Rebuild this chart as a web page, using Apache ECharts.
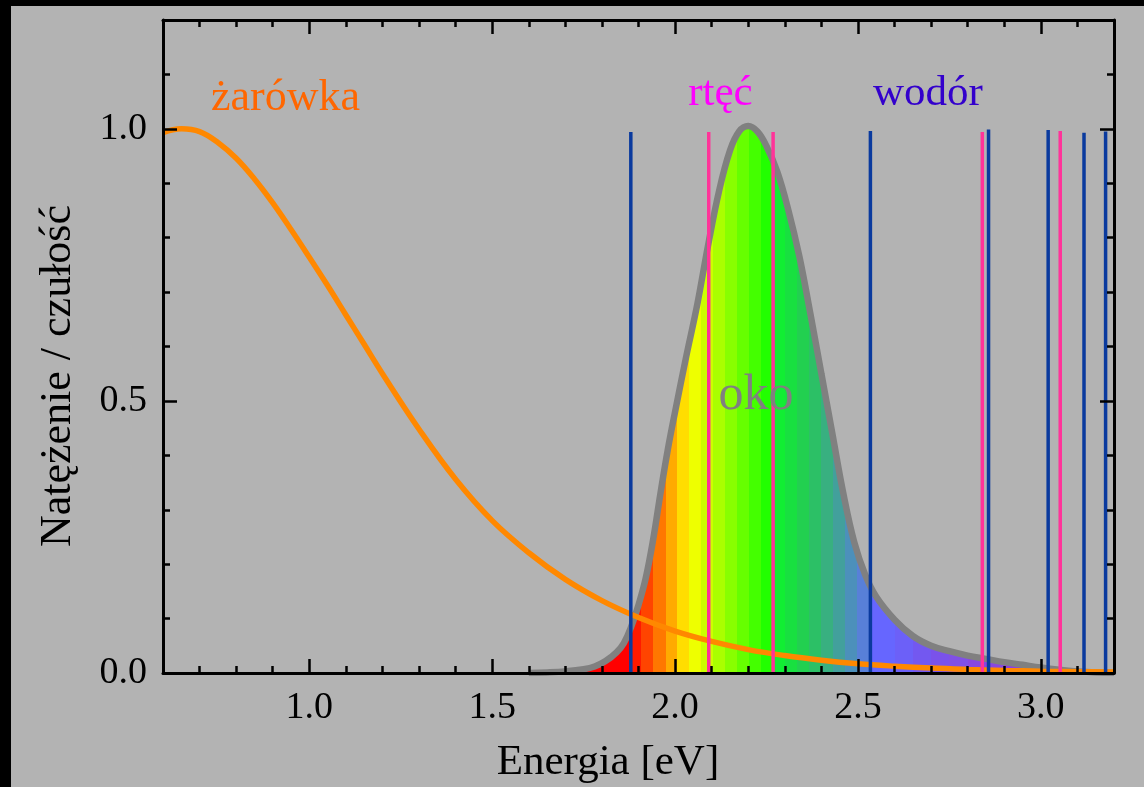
<!DOCTYPE html>
<html>
<head>
<meta charset="utf-8">
<title>oko / żarówka / rtęć / wodór</title>
<script src="https://cdn.jsdelivr.net/npm/echarts@6/dist/echarts.min.js"></script>
<style>
  html, body { margin: 0; padding: 0; background: #000; }
  #chart { width: 1133px; height: 781px; border-top: 6px solid #000; border-left: 11px solid #000; background: #b3b3b3; }
</style>
</head>
<body>
<div id="chart"></div>
<script>
// ticks
var xMajor = [1.0, 1.5, 2.0, 2.5, 3.0];
var xMinor = [0.7, 0.8, 0.9, 1.1, 1.2, 1.3, 1.4, 1.6, 1.7, 1.8, 1.9, 2.1, 2.2, 2.3, 2.4, 2.6, 2.7, 2.8, 2.9, 3.1];
var yMajor = [0.0, 0.5, 1.0];
var yMinor = [0.1, 0.2, 0.3, 0.4, 0.6, 0.7, 0.8, 0.9, 1.1];

// żarówka (widmo żarówki)
var bulbE = [0.60, 0.65, 0.70, 0.75, 0.80, 0.85, 0.90, 0.95, 1.00, 1.05, 1.10, 1.15, 1.20, 1.30, 1.40, 1.50, 1.60, 1.70, 1.80, 1.90, 2.00, 2.10, 2.20, 2.30, 2.40, 2.50, 2.60, 2.70, 2.80, 2.90, 3.00, 3.10, 3.20];
var bulbI = [0.993, 1.0, 0.995, 0.975, 0.946, 0.908, 0.864, 0.815, 0.764, 0.712, 0.658, 0.604, 0.550, 0.448, 0.356, 0.28, 0.221, 0.172, 0.133, 0.102, 0.077, 0.058, 0.043, 0.032, 0.0235, 0.017, 0.0125, 0.009, 0.0066, 0.0048, 0.0034, 0.0024, 0.0017];

// oko (czułość oka)
var eyeE = [1.60, 1.65, 1.70, 1.75, 1.78, 1.81, 1.84, 1.86, 1.88, 1.90, 1.92, 1.94, 1.96, 1.98, 2.00, 2.03, 2.06, 2.09, 2.12, 2.15, 2.175, 2.20, 2.225, 2.25, 2.28, 2.31, 2.34, 2.37, 2.40, 2.43, 2.46, 2.49, 2.52, 2.55, 2.60, 2.65, 2.70, 2.75, 2.80, 2.85, 2.90, 2.95, 3.00, 3.05, 3.10, 3.15, 3.20];
var eyeV = [0.0, 0.001, 0.003, 0.007, 0.012, 0.022, 0.038, 0.055, 0.085, 0.125, 0.175, 0.245, 0.33, 0.41, 0.48, 0.58, 0.675, 0.785, 0.885, 0.96, 0.995, 1.005, 0.995, 0.968, 0.92, 0.85, 0.765, 0.66, 0.55, 0.44, 0.33, 0.24, 0.18, 0.14, 0.098, 0.068, 0.05, 0.04, 0.032, 0.026, 0.02, 0.015, 0.01, 0.006, 0.003, 0.001, 0.0];

// linie widmowe
var hgE = [2.092, 2.268, 2.840, 3.053];
var hgH = [0.994, 0.994, 0.994, 0.996];
var hE = [1.879, 2.534, 2.857, 3.020, 3.118, 3.177];
var hH = [0.994, 0.996, 0.999, 0.998, 0.993, 0.995];

// kolory pasków pod krzywą oka (górne granice przedziałów)
var stripeEdges = [1.875, 1.908, 1.941, 1.974, 2.006, 2.039, 2.072, 2.104, 2.137, 2.170, 2.202, 2.235, 2.268, 2.301, 2.333, 2.366, 2.399, 2.431, 2.464, 2.497, 2.530, 2.600, 2.650, 2.700, 2.750, 2.800, 2.900];
var stripeColors = ['#ff0000', '#ff1a00', '#ff4400', '#ff7700', '#ffaa00', '#ffdd00', '#eeff00', '#ccff00', '#aaff00', '#88ff00', '#66ff00', '#44ff00', '#22ff00', '#11ee33', '#18e040', '#22d050', '#2cc066', '#38b080', '#42a09c', '#4c90bb', '#5880d8', '#6666ff', '#6c60f8', '#7358f0', '#7a52ea', '#8050e6', '#8848e0', '#9040dd'];

var font = "'Liberation Serif', 'Times New Roman', serif";

function zip(a, b) {
  return a.map(function (v, i) { return [v, b[i]]; });
}
function sticks(e, h) {
  var d = [];
  e.forEach(function (v, i) { d.push([v, 0], [v, h[i]], [v, '-']); });
  return d;
}

var pieces = [{ lt: stripeEdges[0], color: stripeColors[0] }];
for (var i = 1; i < stripeEdges.length; i++) {
  pieces.push({ gte: stripeEdges[i - 1], lt: stripeEdges[i], color: stripeColors[i] });
}
pieces.push({ gte: stripeEdges[stripeEdges.length - 1], color: stripeColors[stripeColors.length - 1] });

function xAxis(pos, ticks, len, main) {
  return {
    type: 'value', position: pos, min: 0.6, max: 3.2, z: 10,
    axisLine: { show: main, onZero: false, lineStyle: { color: '#000', width: 3 } },
    axisTick: { show: true, inside: true, length: len, customValues: ticks, lineStyle: { color: '#000', width: 2.5 } },
    axisLabel: {
      show: main && pos === 'bottom', customValues: ticks, margin: 16,
      color: '#000', fontFamily: font, fontSize: 38,
      formatter: function (v) { return v.toFixed(1); }
    },
    splitLine: { show: false }
  };
}
function yAxis(pos, ticks, len, main) {
  return {
    type: 'value', position: pos, min: 0, max: 1.2, z: 10,
    axisLine: { show: main, onZero: false, lineStyle: { color: '#000', width: 3 } },
    axisTick: { show: true, inside: true, length: len, customValues: ticks, lineStyle: { color: '#000', width: 2.5 } },
    axisLabel: {
      show: main && pos === 'left', customValues: ticks, margin: 16,
      color: '#000', fontFamily: font, fontSize: 38,
      formatter: function (v) { return v.toFixed(1); }
    },
    splitLine: { show: false }
  };
}
function note(text, coord, color, size) {
  return {
    symbol: 'circle', symbolSize: 1, silent: true,
    itemStyle: { color: 'transparent' },
    label: { show: true, position: 'inside', color: color, fontFamily: font, fontSize: size },
    data: [{ coord: coord, value: text, label: { formatter: text } }]
  };
}

var myChart = echarts.init(document.getElementById('chart'));
var option = {
  animation: false,
  backgroundColor: '#b3b3b3',
  grid: { left: 152, right: 30, top: 14, bottom: 114 },
  xAxis: [
    xAxis('bottom', xMajor, 14, true),
    xAxis('bottom', xMinor, 7, false),
    xAxis('top', xMajor, 14, true),
    xAxis('top', xMinor, 7, false)
  ],
  yAxis: [
    yAxis('left', yMajor, 14, true),
    yAxis('left', yMinor, 7, false),
    yAxis('right', yMajor, 14, true),
    yAxis('right', yMinor, 7, false)
  ],
  visualMap: {
    type: 'piecewise', show: false, dimension: 0, seriesIndex: 0, pieces: pieces
  },
  graphic: [
    {
      type: 'text', x: 47, y: 370, rotation: Math.PI / 2,
      style: { text: 'Natężenie / czułość', fill: '#000', font: '44px ' + font, textAlign: 'center', textVerticalAlign: 'middle' }
    },
    {
      type: 'text', x: 597, y: 757,
      style: { text: 'Energia [eV]', fill: '#000', font: '43px ' + font, textAlign: 'center', textVerticalAlign: 'middle' }
    }
  ],
  series: [
    {
      name: 'oko', type: 'line', data: zip(eyeE, eyeV),
      smooth: 0.4, showSymbol: false, z: 2,
      lineStyle: { color: '#808080', width: 6.5 },
      areaStyle: { opacity: 1 },
      markPoint: note('oko', [2.221, 0.51], '#808080', 50)
    },
    {
      name: 'żarówka', type: 'line', data: zip(bulbE, bulbI),
      smooth: 0.4, showSymbol: false, z: 3,
      lineStyle: { color: '#ff8800', width: 5.5 },
      markPoint: note('żarówka', [0.935, 1.055], '#ff6600', 44)
    },
    {
      name: 'rtęć', type: 'line', data: sticks(hgE, hgH),
      showSymbol: false, connectNulls: false, z: 4,
      lineStyle: { color: '#ff3399', width: 3.5 },
      markPoint: note('rtęć', [2.124, 1.064], '#ff00ff', 43)
    },
    {
      name: 'wodór', type: 'line', data: sticks(hE, hH),
      showSymbol: false, connectNulls: false, z: 4,
      lineStyle: { color: '#0a3a9e', width: 3.5 },
      markPoint: note('wodór', [2.691, 1.064], '#3300cc', 43)
    }
  ]
};
myChart.setOption(option);
</script>
</body>
</html>
